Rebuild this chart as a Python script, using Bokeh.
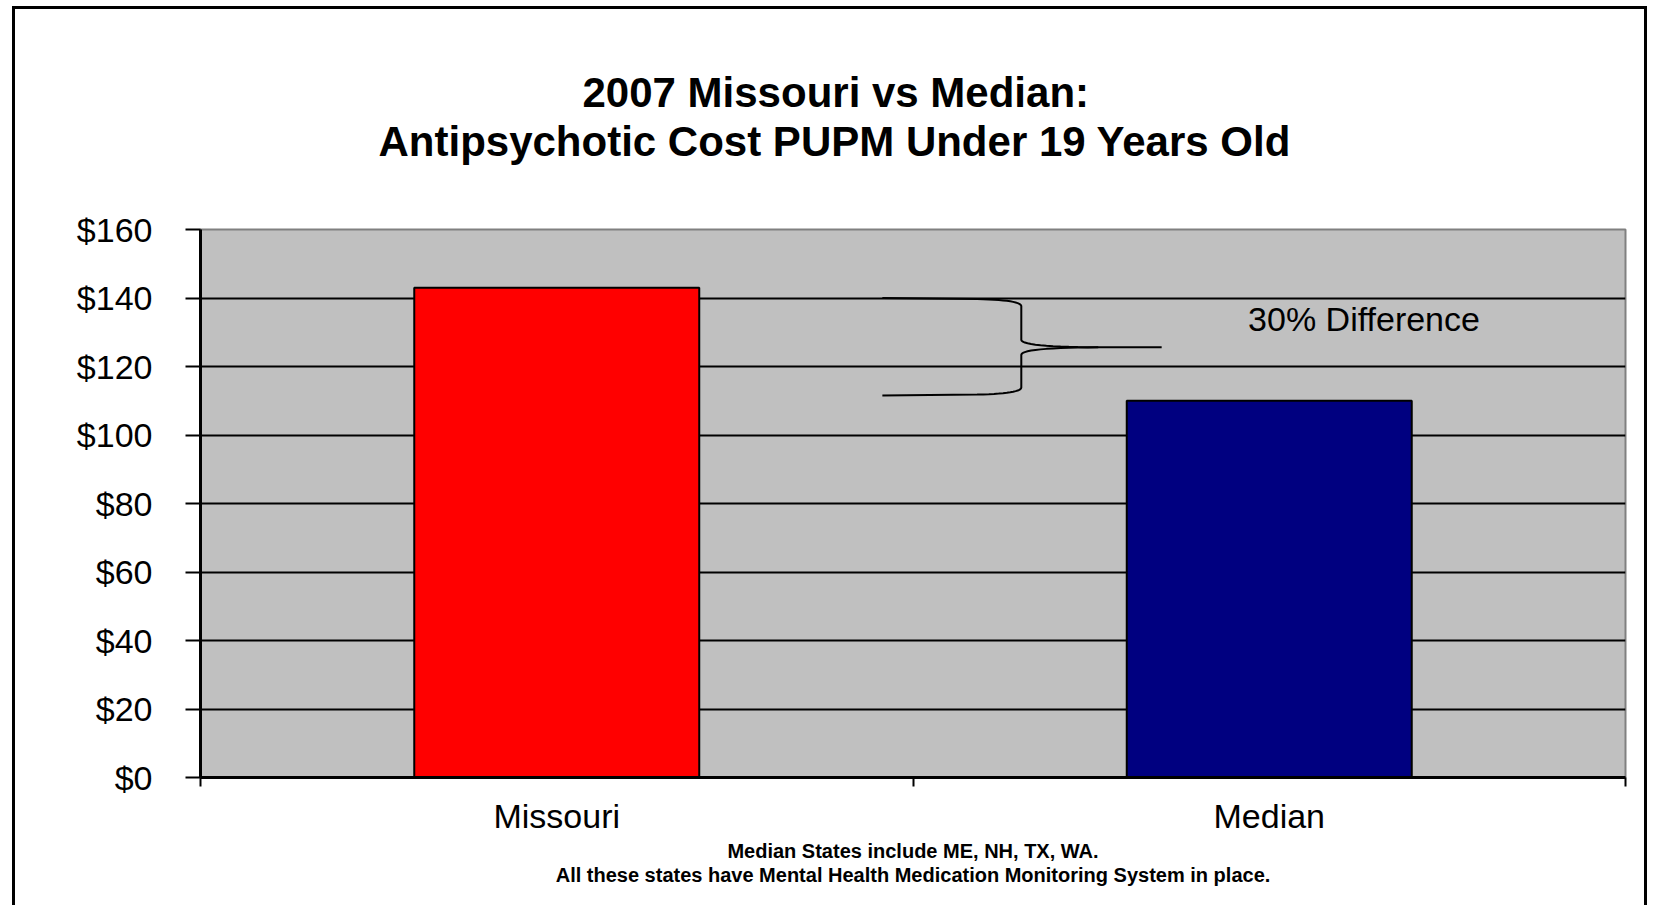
from bokeh.plotting import figure
from bokeh.models import Range1d, FixedTicker, Label, Title, ColumnDataSource, LinearAxis
from bokeh.embed import file_html
from bokeh.resources import INLINE

# ---------------- data ----------------
categories = ["Missouri", "Median"]
costs = [143, 110]
bar_colors = ["#FF0000", "#000080"]
y_ticks = [0, 20, 40, 60, 80, 100, 120, 140, 160]
y_tick_labels = ["$0", "$20", "$40", "$60", "$80", "$100", "$120", "$140", "$160"]
title_lines = ["2007 Missouri vs Median:", "Antipsychotic Cost PUPM Under 19 Years Old"]
annotation_text = "30% Difference"
brace_top, brace_bottom, brace_tip = 140, 111.5, 125.6
footnotes = ["Median States include ME, NH, TX, WA.",
             "All these states have Mental Health Medication Monitoring System in place."]

FONT = "Liberation Sans"
TITLE_PX = 42

x_pos = [i + 0.5 for i in range(len(categories))]
src = ColumnDataSource(dict(x=x_pos, top=costs, color=bar_colors, cat=categories))

W, H = 1635, 899
p = figure(width=W, height=H, x_range=Range1d(0, len(categories)), y_range=Range1d(y_ticks[0], y_ticks[-1]),
           output_backend="svg", toolbar_location=None,
           min_border_left=185, min_border_right=25, min_border_top=220, min_border_bottom=131)
p.styles = {"border-left": "3px solid black", "border-top": "3px solid black",
            "border-right": "3px solid black", "margin-left": "12px", "margin-top": "6px"}
p.title.visible = False
p.background_fill_color = "#C0C0C0"
p.border_fill_color = "white"
p.outline_line_color = "#808080"
p.outline_line_width = 2

# grid
p.xgrid.visible = False
p.ygrid.ticker = FixedTicker(ticks=y_ticks[1:-1])
p.ygrid.grid_line_color = "black"
p.ygrid.grid_line_width = 2

# y axis
p.yaxis.ticker = FixedTicker(ticks=y_ticks)
p.yaxis.major_label_overrides = {t: l for t, l in zip(y_ticks, y_tick_labels)}
p.yaxis.major_label_text_font = FONT
p.yaxis.major_label_text_font_size = "34px"
p.yaxis.major_label_text_color = "black"
p.yaxis.major_tick_out = 15
p.yaxis.major_tick_in = 0
p.yaxis.major_tick_line_width = 2
p.yaxis.major_tick_line_color = "black"
p.yaxis.minor_tick_line_color = None
p.yaxis.axis_line_color = "black"
p.yaxis.axis_line_width = 3
p.yaxis.major_label_standoff = 33

# x axis
p.xaxis.ticker = FixedTicker(ticks=x_pos, minor_ticks=list(range(len(categories) + 1)))
p.xaxis.major_label_overrides = {x: c for x, c in zip(x_pos, categories)}
p.xaxis.major_label_text_font = FONT
p.xaxis.major_label_text_font_size = "34px"
p.xaxis.major_label_text_color = "black"
p.xaxis.major_tick_line_color = None
p.xaxis.major_tick_out = 0
p.xaxis.major_tick_in = 0
p.xaxis.minor_tick_out = 9
p.xaxis.minor_tick_in = 0
p.xaxis.minor_tick_line_color = "black"
p.xaxis.minor_tick_line_width = 2
p.xaxis.axis_line_color = "black"
p.xaxis.axis_line_width = 3
p.xaxis.major_label_standoff = 10

# bars
p.vbar(x="x", top="top", width=0.4, bottom=0, fill_color="color", line_color="black", line_width=2, source=src)

# brace annotation
def quad(p0, c, p1, n=14):
    xs, ys = [], []
    for i in range(n + 1):
        t = i / n
        xs.append((1 - t) ** 2 * p0[0] + 2 * (1 - t) * t * c[0] + t ** 2 * p1[0])
        ys.append((1 - t) ** 2 * p0[1] + 2 * (1 - t) * t * c[1] + t ** 2 * p1[1])
    return xs, ys

x_arm, x_v, x_tip = 0.957, 1.152, 1.349
ux, uy = [x_arm], [brace_top]
cx, cy = quad((1.09, brace_top - 0.3), (x_v, brace_top - 0.6), (x_v, brace_top - 2.4))
ux += cx; uy += cy
cx, cy = quad((x_v, brace_tip + 2.2), (x_v, brace_tip + 0.1), (1.26, brace_tip))
ux += cx; uy += cy
ux.append(x_tip); uy.append(brace_tip)
p.line(ux, uy, line_color="black", line_width=2)

lx, ly = [1.26], [brace_tip]
cx, cy = quad((1.26, brace_tip), (x_v, brace_tip - 0.1), (x_v, brace_tip - 2.2))
lx += cx; ly += cy
cx, cy = quad((x_v, brace_bottom + 2.4), (x_v, brace_bottom + 0.6), (1.09, brace_bottom + 0.3))
lx += cx; ly += cy
lx.append(x_arm); ly.append(brace_bottom)
p.line(lx, ly, line_color="black", line_width=2)

p.add_layout(Label(x=1.633, y=134, text=annotation_text, text_font=FONT, text_font_size="34px",
                   text_align="center", text_baseline="middle", text_color="black"))

# invisible spacer axis between the plot area and the two title lines
spacer = LinearAxis(ticker=FixedTicker(ticks=[x_pos[0]]), major_tick_out=65, major_tick_in=0,
                    axis_line_color=None, major_tick_line_color=None, minor_tick_line_color=None,
                    major_label_text_font_size="0px", major_label_standoff=0,
                    major_label_overrides={x_pos[0]: ""})
p.add_layout(spacer, "above")

# titles (closest to the frame first); offsets place the centre of each line at the chart's centre
p.add_layout(Title(text=title_lines[1], align="left", offset=178, text_font=FONT,
                   text_font_size=f"{TITLE_PX}px", text_font_style="bold", text_color="black",
                   standoff=0), "above")
p.add_layout(Title(text=title_lines[0], align="left", offset=382, text_font=FONT,
                   text_font_size=f"{TITLE_PX}px", text_font_style="bold", text_color="black",
                   standoff=0), "above")

# footnotes
p.add_layout(Title(text=footnotes[0], align="center", text_font=FONT, text_font_size="20px",
                   text_font_style="bold", text_color="black", standoff=0), "below")
p.add_layout(Title(text=footnotes[1], align="center", text_font=FONT, text_font_size="20px",
                   text_font_style="bold", text_color="black", standoff=0), "below")

open("out.html", "w").write(file_html(p, INLINE))
